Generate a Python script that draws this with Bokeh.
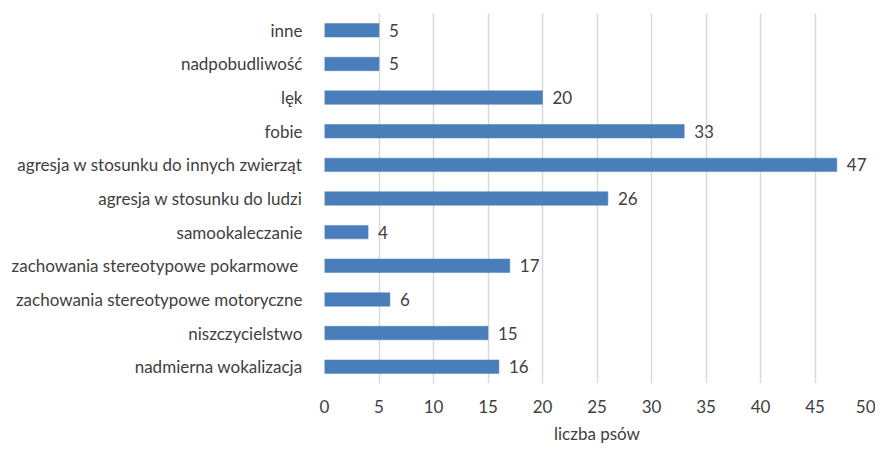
from bokeh.plotting import figure
from bokeh.models import ColumnDataSource, Range1d, FactorRange, FixedTicker
from bokeh.core.properties import value
from bokeh.embed import file_html
from bokeh.resources import INLINE

categories = [
    "inne",
    "nadpobudliwość",
    "lęk",
    "fobie",
    "agresja w stosunku do innych zwierząt",
    "agresja w stosunku do ludzi",
    "samookaleczanie",
    "zachowania stereotypowe pokarmowe ",
    "zachowania stereotypowe motoryczne",
    "niszczycielstwo",
    "nadmierna wokalizacja",
]
counts = [5, 5, 20, 33, 47, 26, 4, 17, 6, 15, 16]
x_ticks = [0, 5, 10, 15, 20, 25, 30, 35, 40, 45, 50]
x_title = "liczba psów"

FONT = "Lato"
FS = "17px"
TXT = "#404040"
BAR = "#4a7ebb"

src = ColumnDataSource(dict(cat=categories, val=counts, lab=[str(v) for v in counts]))

p = figure(
    width=875, height=446,
    y_range=FactorRange(factors=list(reversed(categories)), range_padding=0),
    x_range=Range1d(0, 50),
    output_backend="svg", toolbar_location=None,
    min_border_left=324, min_border_right=6, min_border_top=13, min_border_bottom=0,
)
p.outline_line_color = None

p.hbar(y="cat", right="val", left=0, height=0.4, source=src,
       fill_color=BAR, line_color=BAR, line_width=0.5)

p.text(x="val", y="cat", text="lab", source=src, x_offset=10,
       text_align="left", text_baseline="middle",
       text_font=value(FONT), text_font_size=FS, text_color=TXT)

# x axis
p.xaxis.ticker = FixedTicker(ticks=x_ticks)
p.xaxis.axis_line_color = None
p.xaxis.major_tick_line_color = None
p.xaxis.minor_tick_line_color = None
p.xaxis.major_label_text_font = FONT
p.xaxis.major_label_text_font_size = FS
p.xaxis.major_label_text_color = TXT
p.xaxis.major_label_standoff = 10
p.xaxis.axis_label = x_title
p.xaxis.axis_label_text_font = FONT
p.xaxis.axis_label_text_font_size = FS
p.xaxis.axis_label_text_font_style = "normal"
p.xaxis.axis_label_text_color = TXT
p.xaxis.axis_label_standoff = 7

# y axis
p.yaxis.axis_line_color = None
p.yaxis.major_tick_line_color = None
p.yaxis.minor_tick_line_color = None
p.yaxis.major_label_text_font = FONT
p.yaxis.major_label_text_font_size = FS
p.yaxis.major_label_text_color = TXT
p.yaxis.major_label_standoff = 16

# grid
p.ygrid.grid_line_color = None
p.xgrid.grid_line_color = "#d9d9d9"
p.xgrid.grid_line_width = 1.5

open("out.html", "w").write(file_html(p, INLINE))
